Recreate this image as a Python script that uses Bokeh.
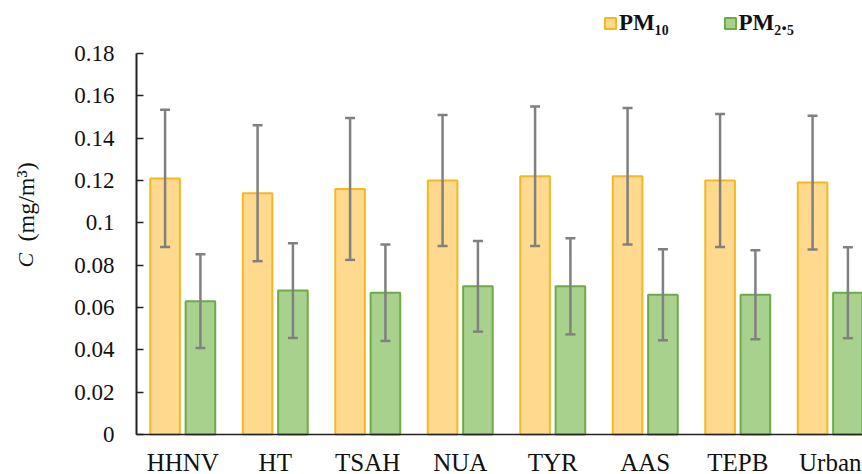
import numpy as np
from bokeh.plotting import figure
from bokeh.models import (ColumnDataSource, Whisker, TeeHead, Range1d, FixedTicker,
                          CustomJSTickFormatter, Legend, LegendItem, Label)
from bokeh.embed import file_html
from bokeh.resources import INLINE

# ---- data ----
sites = ["HHNV", "HT", "TSAH", "NUA", "TYR", "AAS", "TEPB", "Urban"]
pm10 = [0.121, 0.114, 0.116, 0.120, 0.122, 0.122, 0.120, 0.119]
pm10_err = [0.0324, 0.0321, 0.0335, 0.0310, 0.0330, 0.0322, 0.0314, 0.0316]
pm25 = [0.063, 0.068, 0.067, 0.070, 0.070, 0.066, 0.066, 0.067]
pm25_err = [0.0221, 0.0224, 0.0228, 0.0214, 0.0227, 0.0215, 0.0210, 0.0215]
y_ticks = [0, 0.02, 0.04, 0.06, 0.08, 0.10, 0.12, 0.14, 0.16, 0.18]
Y_MAX = 0.18

# ---- styling ----
ORANGE_FILL, ORANGE_LINE = "#FFD98E", "#F3B822"
GREEN_FILL, GREEN_LINE = "#A9D18E", "#6EAB45"
ERR_COLOR = "#808080"
FONT = "Liberation Serif"
OFFSET, BAR_W = 0.191, 0.32
PX_PER_CAT = 92.5

idx = np.arange(len(sites)) + 0.5
a10, e10 = np.array(pm10), np.array(pm10_err)
a25, e25 = np.array(pm25), np.array(pm25_err)

src10 = ColumnDataSource(dict(x=idx - OFFSET, top=a10, upper=a10 + e10, lower=a10 - e10))
src25 = ColumnDataSource(dict(x=idx + OFFSET, top=a25, upper=a25 + e25, lower=a25 - e25))

W, H = 862, 474
AXIS_X_PX = 136                      # y-axis position from the left
AXIS_TOP_PX, AXIS_BOT_PX = 53, 434   # where Y_MAX and 0 sit, from the top
px_per_unit = (AXIS_BOT_PX - AXIS_TOP_PX) / Y_MAX
y_start = -(H - AXIS_BOT_PX) / px_per_unit
y_end = Y_MAX + AXIS_TOP_PX / px_per_unit
x_start = -AXIS_X_PX / PX_PER_CAT
x_end = (W - AXIS_X_PX) / PX_PER_CAT

p = figure(width=W, height=H, x_range=Range1d(x_start, x_end), y_range=Range1d(y_start, y_end),
           output_backend="svg", toolbar_location=None,
           min_border_left=0, min_border_right=0, min_border_top=0, min_border_bottom=0)
p.outline_line_color = None
p.xgrid.visible = False
p.ygrid.visible = False
p.background_fill_color = "white"
p.border_fill_color = "white"

r10 = p.vbar(x="x", top="top", width=BAR_W, source=src10, fill_color=ORANGE_FILL,
             line_color=ORANGE_LINE, line_width=2)
r25 = p.vbar(x="x", top="top", width=BAR_W, source=src25, fill_color=GREEN_FILL,
             line_color=GREEN_LINE, line_width=2)

for src in (src10, src25):
    w = Whisker(base="x", upper="upper", lower="lower", source=src,
                line_color=ERR_COLOR, line_width=2.5, level="overlay",
                upper_head=TeeHead(size=10, line_color=ERR_COLOR, line_width=2.5),
                lower_head=TeeHead(size=10, line_color=ERR_COLOR, line_width=2.5))
    p.add_layout(w)

# x axis, pinned at y = 0
p.xaxis.fixed_location = 0
p.xaxis.bounds = (0, x_end)
p.xaxis.ticker = FixedTicker(ticks=list(idx))
p.xaxis.formatter = CustomJSTickFormatter(args=dict(labels=sites),
                                          code="return labels[Math.floor(tick)] || '';")
p.xaxis.major_tick_line_color = None
p.xaxis.minor_tick_line_color = None
p.xaxis.major_label_standoff = 8
p.xaxis.major_label_text_font = FONT
p.xaxis.major_label_text_font_size = "25px"
p.xaxis.major_label_text_color = "#111111"
p.xaxis.axis_line_color = "#222222"
p.xaxis.axis_line_width = 1.5

# y axis, pinned at x = 0
p.yaxis.fixed_location = 0
p.yaxis.bounds = (0, Y_MAX)
p.yaxis.ticker = FixedTicker(ticks=y_ticks)
p.yaxis.formatter = CustomJSTickFormatter(code="return tick.toFixed(2).replace(/\\.?0+$/, '');")
p.yaxis.major_tick_in = 7
p.yaxis.major_tick_out = 0
p.yaxis.major_tick_line_color = "#222222"
p.yaxis.major_tick_line_width = 1.5
p.yaxis.minor_tick_line_color = None
p.yaxis.major_label_standoff = 22
p.yaxis.major_label_text_font = FONT
p.yaxis.major_label_text_font_size = "23px"
p.yaxis.major_label_text_color = "#111111"
p.yaxis.axis_line_color = "#222222"
p.yaxis.axis_line_width = 2

# y-axis title: italic C + (mg/m³)  (screen units from the frame's bottom-left)
p.add_layout(Label(x=25, y=H - 267, x_units="screen", y_units="screen", text="C",
                   angle=np.pi / 2, text_font=FONT, text_font_style="italic",
                   text_font_size="22px", text_align="left", text_baseline="middle",
                   text_color="#111111"))
p.add_layout(Label(x=25, y=H - 241, x_units="screen", y_units="screen", text="(mg/m³)",
                   angle=np.pi / 2, text_font=FONT, text_font_size="24px",
                   text_align="left", text_baseline="middle", text_color="#111111"))

legend = Legend(items=[LegendItem(label="PM₁₀", renderers=[r10]),
                       LegendItem(label="PM₂.₅", renderers=[r25])],
                orientation="horizontal", location=(603, H - 36))
legend.border_line_color = None
legend.background_fill_alpha = 0
legend.padding = 0
legend.margin = 0
legend.glyph_width = 14
legend.glyph_height = 14
legend.label_height = 26
legend.label_standoff = 2
legend.spacing = 54
legend.label_text_font = FONT
legend.label_text_font_style = "bold"
legend.label_text_font_size = "23px"
legend.label_text_color = "#111111"
p.add_layout(legend)

open("out.html", "w").write(file_html(p, INLINE))
